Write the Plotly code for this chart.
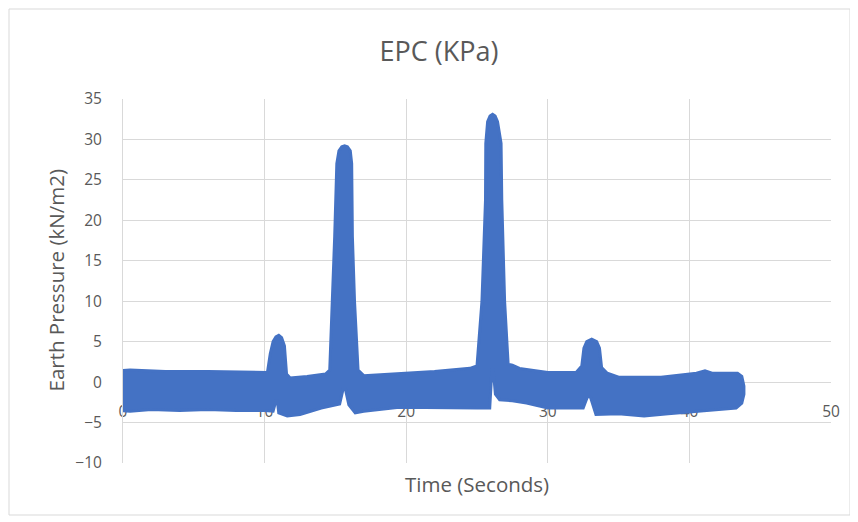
import plotly.graph_objects as go

# Upper envelope of the dense scatter band (time s, pressure kN/m2)
upper_t = [-0.4, -0.2, 0.5, 3.0, 6.0, 9.0, 10.2, 10.4, 10.6, 10.8, 11.0, 11.2, 11.4, 11.55, 11.8, 13.0, 14.3,
           14.6, 14.8, 14.95, 15.1, 15.25, 15.45, 15.65, 15.85, 16.05, 16.15, 16.2, 16.35, 16.6, 17.0, 19.0,
           22.0, 24.5, 25.0, 25.35, 25.6, 25.62, 25.75, 25.92, 26.1, 26.28, 26.45, 26.7, 26.75, 26.95, 27.2,
           27.5, 28.0, 30.0, 32.0, 32.4, 32.55, 32.75, 33.1, 33.45, 33.65, 33.8, 34.2, 35.0, 38.0, 40.5,
           41.1, 41.6, 43.4, 43.7, 43.85]
upper_v = [0.6, 1.4, 1.5, 1.3, 1.3, 1.25, 1.2, 3.5, 5.0, 5.6, 5.8, 5.5, 4.5, 1.0, 0.5, 0.7, 1.0,
           1.5, 10.0, 18.0, 27.0, 28.6, 29.1, 29.2, 29.1, 28.6, 27.0, 18.0, 10.0, 1.5, 0.8, 1.0,
           1.3, 1.7, 2.0, 10.0, 22.5, 29.5, 32.2, 32.9, 33.1, 32.9, 32.2, 29.5, 22.5, 10.0, 2.2,
           2.1, 1.7, 1.2, 1.2, 2.0, 4.2, 5.0, 5.3, 5.0, 4.2, 1.8, 1.1, 0.6, 0.6, 1.1,
           1.4, 1.1, 1.1, 0.7, -0.5]

# Lower envelope of the band
lower_t = [-0.4, -0.2, 0.5, 2.0, 4.0, 6.0, 8.0, 10.0, 10.6, 10.8, 10.9, 11.0, 11.6, 12.5, 14.0, 15.3,
           15.55, 15.7, 15.95, 16.4, 17.0, 19.5, 25.0, 25.9, 26.05, 26.15, 26.3, 26.6, 27.5, 28.5, 30.0,
           32.5, 32.8, 33.0, 33.4, 35.0, 36.8, 38.5, 41.0, 43.3, 43.7, 43.85]
lower_v = [-2.8, -3.5, -3.6, -3.4, -3.5, -3.4, -3.5, -3.5, -3.6, -2.3, -2.3, -3.8, -4.2, -4.0, -3.2, -2.7,
           -0.8, -0.8, -2.8, -3.8, -3.6, -3.1, -3.2, -3.2, 1.5, 1.5, -1.5, -2.2, -2.3, -2.6, -3.2,
           -3.2, -1.8, -1.8, -4.0, -3.9, -4.2, -3.9, -3.5, -3.2, -2.6, -1.5]

x_ticks = [0, 10, 20, 30, 40, 50]
y_ticks = [-10, -5, 0, 5, 10, 15, 20, 25, 30, 35]

title_text = "EPC (KPa)"
x_title = "Time (Seconds)"
y_title = "Earth Pressure (kN/m2)"

BLUE = "#4472C4"
GRID = "#D9D9D9"
TXT = "#595959"
FONT = "Open Sans"

poly_x = upper_t + lower_t[::-1]
poly_y = upper_v + lower_v[::-1]

fig = go.Figure()
fig.add_trace(go.Scatter(
    x=poly_x, y=poly_y, mode="lines", fill="toself",
    fillcolor=BLUE, line=dict(color=BLUE, width=3, shape="linear"),
    hoverinfo="skip", showlegend=False,
))

# the page body has an 8px margin, so the figure is 8px smaller than the window
W, H = 850, 514
L, R, T, B = 115, 27, 91, 59
pw = W - L - R
ph = H - T - B

def ypaper(px):
    return (H - B - px) / ph

def xpaper(px):
    return (px - L) / pw

fig.update_layout(
    width=W, height=H,
    margin=dict(l=L, r=R, t=T, b=B),
    paper_bgcolor="white", plot_bgcolor="white",
    font=dict(family=FONT, color=TXT, size=15.5),
    title=dict(text=title_text, x=431 / W, xref="container",
               y=1 - 44 / H, yanchor="middle", xanchor="center",
               font=dict(family=FONT, size=27, color=TXT)),
    xaxis=dict(range=[0, 50], tickvals=x_ticks, showgrid=True, gridcolor=GRID, gridwidth=1,
               zeroline=False, showline=False, ticks="", anchor="free", position=ypaper(392),
               layer="below traces", tickfont=dict(family=FONT, size=15.5, color=TXT)),
    yaxis=dict(range=[-10, 35], tickvals=y_ticks, showgrid=True, gridcolor=GRID, gridwidth=1,
               zeroline=False, showline=True, linecolor=GRID, ticks="", ticklabelstandoff=17,
               tickfont=dict(family=FONT, size=15.5, color=TXT)),
    annotations=[
        dict(text=x_title, x=xpaper(469), xref="paper", y=ypaper(476), yref="paper",
             showarrow=False, xanchor="center", yanchor="middle",
             font=dict(family=FONT, size=20.5, color=TXT)),
        dict(text=y_title, x=xpaper(47), xref="paper", y=ypaper(272.5), yref="paper",
             showarrow=False, xanchor="center", yanchor="middle", textangle=-90,
             font=dict(family=FONT, size=20.5, color=TXT)),
    ],
    shapes=[
        dict(type="rect", xref="paper", yref="paper",
             x0=xpaper(1), x1=xpaper(842), y0=ypaper(507), y1=ypaper(1),
             line=dict(color=GRID, width=1), fillcolor="rgba(0,0,0,0)", layer="below"),
        # hide the vertical gridline at the right edge (x = 50), as in the reference
        dict(type="line", xref="x", yref="paper", x0=50, x1=50, y0=0, y1=1,
             line=dict(color="white", width=3), layer="between"),
    ],
)

fig.write_html("out.html")
